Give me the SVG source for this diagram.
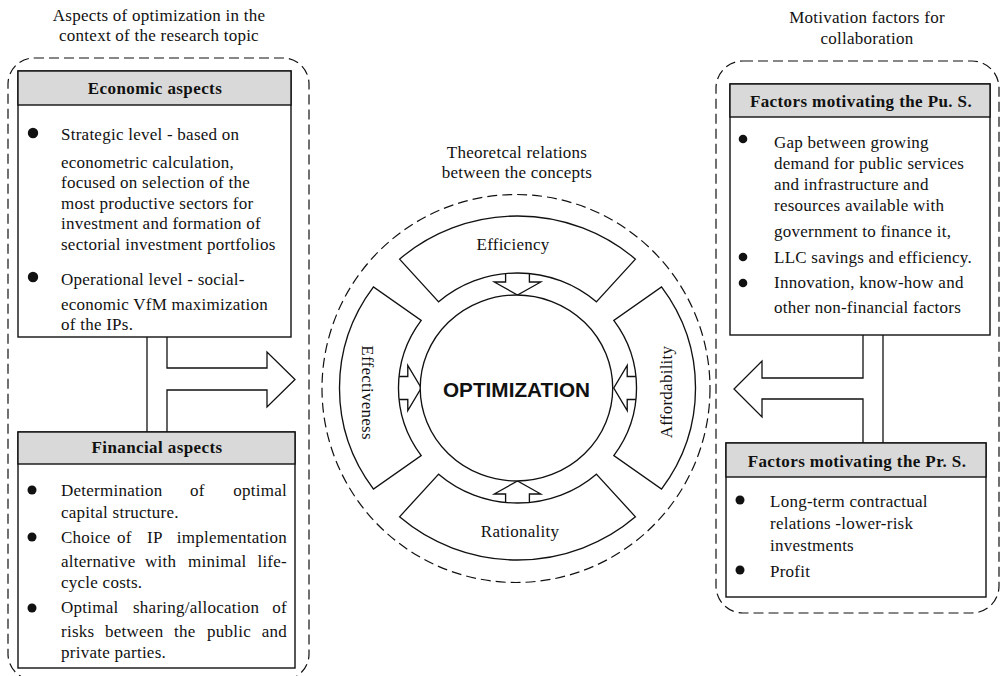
<svg xmlns="http://www.w3.org/2000/svg" width="1000" height="676" viewBox="0 0 1000 676">
  <style>
    text { font-family: "Liberation Serif", "Times New Roman", serif; font-size: 17px; fill: #111; letter-spacing: 0.25px; }
    .title { text-anchor: middle; }
    .head { font-weight: bold; text-anchor: middle; letter-spacing: 0.4px; }
    .mid { text-anchor: middle; }
    .box { fill: #fff; stroke: #111; stroke-width: 1.4; }
    .hdr { fill: #d9d9d9; stroke: #111; stroke-width: 1.4; }
    .group { fill: none; stroke: #111; stroke-width: 1.2; stroke-dasharray: 10 5; }
    .line { fill: #fff; stroke: #111; stroke-width: 1.3; stroke-linejoin: miter; }
    .dot { fill: #111; }
    .opt { font-family: "Liberation Sans", Arial, sans-serif; font-weight: bold; font-size: 20.5px; letter-spacing: 0; }
  </style>

  <!-- group outlines -->
  <rect class="group" x="8" y="58" width="301" height="622" rx="26"/>
  <rect class="group" x="716" y="61" width="283" height="552" rx="27"/>

  <!-- titles -->
  <text class="title" x="159" y="21">Aspects of optimization in the</text>
  <text class="title" x="159" y="41">context of the research topic</text>
  <text class="title" x="867" y="23">Motivation factors for</text>
  <text class="title" x="867" y="44">collaboration</text>
  <text class="title" x="517" y="158">Theoretcal relations</text>
  <text class="title" x="517" y="178">between the concepts</text>

  <!-- connectors -->
  <g id="connectors">
    <path class="line" d="M167,337 V368 H267 V352 L295,379.5 L267,407 V390 H167 V432"/>
    <path class="line" d="M147,337 V432"/>
    <path class="line" d="M863,335 V378 H762 V361 L734,389 L762,417 V399 H863 V443"/>
    <path class="line" d="M883,335 V443"/>
  </g>

  <!-- economic aspects -->
  <g id="economic">
    <rect class="box" x="18" y="71" width="273" height="266"/>
    <rect class="hdr" x="18" y="71" width="273" height="34"/>
    <text class="head" x="155" y="94">Economic aspects</text>
    <circle class="dot" cx="33" cy="133" r="5.2"/>
    <circle class="dot" cx="33" cy="277" r="5.2"/>
    <text x="61" y="140">Strategic level - based on</text>
    <text x="61" y="168">econometric calculation,</text>
    <text x="61" y="188">focused on selection of the</text>
    <text x="61" y="209">most productive sectors for</text>
    <text x="61" y="229">investment and formation of</text>
    <text x="61" y="250">sectorial investment portfolios</text>
    <text x="61" y="285">Operational level - social-</text>
    <text x="61" y="310">economic VfM maximization</text>
    <text x="61" y="330">of the IPs.</text>
  </g>

  <!-- financial aspects -->
  <g id="financial">
    <rect class="box" x="18" y="432" width="277" height="236"/>
    <rect class="hdr" x="18" y="432" width="277" height="32"/>
    <text class="head" x="157" y="453">Financial aspects</text>
    <circle class="dot" cx="32" cy="490" r="4.5"/>
    <circle class="dot" cx="32" cy="537" r="4.5"/>
    <circle class="dot" cx="32" cy="608" r="4.5"/>
    <text y="496"><tspan x="61">Determination</tspan><tspan x="190">of</tspan><tspan x="287" text-anchor="end">optimal</tspan></text>
    <text x="61" y="518">capital structure.</text>
    <text y="543"><tspan x="61">Choice</tspan><tspan x="117">of</tspan><tspan x="147">IP</tspan><tspan x="287" text-anchor="end">implementation</tspan></text>
    <text y="567"><tspan x="61">alternative</tspan><tspan x="145">with</tspan><tspan x="188">minimal</tspan><tspan x="287" text-anchor="end">life-</tspan></text>
    <text x="61" y="588">cycle costs.</text>
    <text y="613"><tspan x="61">Optimal</tspan><tspan x="133">sharing/allocation</tspan><tspan x="287" text-anchor="end">of</tspan></text>
    <text y="637"><tspan x="61">risks</tspan><tspan x="105">between</tspan><tspan x="174">the</tspan><tspan x="207">public</tspan><tspan x="287" text-anchor="end">and</tspan></text>
    <text x="61" y="658">private parties.</text>
  </g>

  <!-- public sector motivation -->
  <g id="public-sector">
    <rect class="box" x="730" y="84" width="260" height="251"/>
    <rect class="hdr" x="730" y="84" width="260" height="33"/>
    <text class="head" x="861" y="107">Factors motivating the Pu. S.</text>
    <circle class="dot" cx="743" cy="139" r="4.3"/>
    <circle class="dot" cx="743" cy="257" r="4.3"/>
    <circle class="dot" cx="743" cy="283" r="4.3"/>
    <text x="774" y="148">Gap between growing</text>
    <text x="774" y="169">demand for public services</text>
    <text x="774" y="190">and infrastructure and</text>
    <text x="774" y="211">resources available with</text>
    <text x="774" y="237">government to finance it,</text>
    <text x="774" y="263">LLC savings and efficiency.</text>
    <text x="774" y="288">Innovation, know-how and</text>
    <text x="774" y="313">other non-financial factors</text>
  </g>

  <!-- private sector motivation -->
  <g id="private-sector">
    <rect class="box" x="726" y="443" width="260" height="154"/>
    <rect class="hdr" x="726" y="443" width="260" height="34"/>
    <text class="head" x="857" y="467">Factors motivating the Pr. S.</text>
    <circle class="dot" cx="740" cy="500" r="4.5"/>
    <circle class="dot" cx="740" cy="570" r="4.5"/>
    <text x="770" y="507">Long-term contractual</text>
    <text x="770" y="529">relations -lower-risk</text>
    <text x="770" y="551">investments</text>
    <text x="770" y="577">Profit</text>
  </g>

  <!-- concept wheel -->
  <g id="wheel">
    <circle class="group" cx="516" cy="388.5" r="194"/>
    <g transform="translate(517.5,388) scale(1.035,1)">
      <g id="arrows-in">
        <path class="line" d="M-11.5,-117 V-106 H-22.5 L0,-93 L22.5,-106 H11.5 V-117"/>
        <path class="line" d="M-11.5,117 V106 H-22.5 L0,93 L22.5,106 H11.5 V117"/>
        <path class="line" d="M-117,-11.5 H-106 V-22.5 L-93,0 L-106,22.5 V11.5 H-117"/>
        <path class="line" d="M117,-11.5 H106 V-22.5 L93,0 L106,22.5 V11.5 H117"/>
      </g>
      <path id="efficiency" class="line" d="M-113.97,-128.83 A172,172 0 0 1 113.97,-128.83 L76.2,-86.14 A115,115 0 0 0 -76.2,-86.14 Z"/>
      <path id="rationality" class="line" d="M-113.97,128.83 A172,172 0 0 0 113.97,128.83 L76.2,86.14 A115,115 0 0 1 -76.2,86.14 Z"/>
      <path id="affordability" class="line" d="M139.15,-101.1 A172,172 0 0 1 139.15,101.1 L93.04,67.6 A115,115 0 0 0 93.04,-67.6 Z"/>
      <path id="effectiveness" class="line" d="M-139.15,-101.1 A172,172 0 0 0 -139.15,101.1 L-93.04,67.6 A115,115 0 0 1 -93.04,-67.6 Z"/>
      <circle id="optimization" class="line" cx="-1" cy="0" r="93"/>
    </g>
    <text class="mid" x="513" y="250">Efficiency</text>
    <text class="mid" x="520" y="537">Rationality</text>
    <text class="mid" transform="translate(362,392.5) rotate(90)">Effectiveness</text>
    <text class="mid" transform="translate(672,392) rotate(-90)">Affordability</text>
    <text class="opt mid" x="516.5" y="397" textLength="147" lengthAdjust="spacingAndGlyphs">OPTIMIZATION</text>
  </g>
</svg>
